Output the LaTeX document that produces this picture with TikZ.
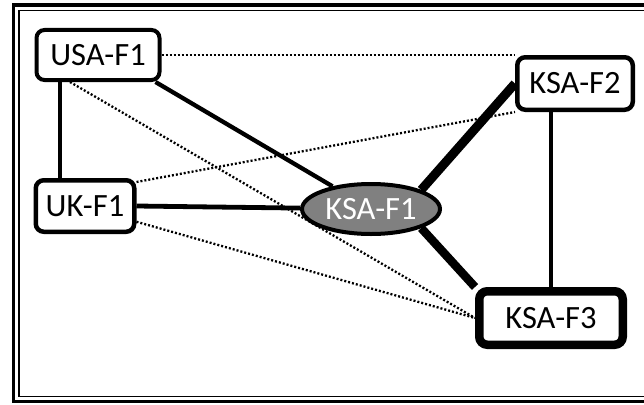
\documentclass[tikz,border=0pt]{standalone}
\usepackage{fontspec}
\setmainfont{Carlito}
\usetikzlibrary{shapes.geometric}

\begin{document}
\begin{tikzpicture}[x=1pt,y=-1pt,
    site/.style={rectangle,rounded corners=8pt,draw,fill=white,line width=4.5pt,inner sep=3pt,font=\fontsize{32.5}{36}\selectfont},
    hub/.style={ellipse,draw,fill=gray,text=white,line width=4pt,inner sep=2pt,minimum width=138pt,minimum height=50pt,font=\fontsize{32.5}{36}\selectfont},
    weaklink/.style={line width=2.3pt,dash pattern=on 2pt off 2pt}]
    \useasboundingbox (0,0) rectangle (644,404);
    % frame
    \draw[line width=3.5pt] (660,5) -- (13.5,5) -- (13.5,401.5) -- (660,401.5);
    \draw[line width=1.2pt] (660,10.5) -- (19,10.5) -- (19,396.5) -- (660,396.5);

    \node[site,line width=4pt,minimum width=123pt,minimum height=50pt] (usa) at (98,55) {USA-F1};
    \node[site,minimum width=98.5pt,minimum height=51.5pt] (uk) at (85,206) {UK-F1};
    \node[site,minimum width=115.5pt,minimum height=52.5pt] (ksa2) at (575,83.5) {KSA-F2};
    \node[site,line width=8.5pt,minimum width=143.5pt,minimum height=53.5pt] (ksa3) at (551,318) {KSA-F3};
    \node[hub] (ksa1) at (371,209) {KSA-F1};

    \draw[weaklink] (usa.east) -- (ksa2.north west);
    \draw[weaklink] ([xshift=-28pt]usa.south) -- (ksa3.west);
    \draw[weaklink] (uk.25) -- (ksa2.south west);
    \draw[weaklink] (uk.-17) -- (ksa3.west);

    \draw[line width=3.8pt] ([xshift=-38pt]usa.south) -- ([xshift=-38pt]usa.south |- uk.north);
    \draw[line width=3.8pt] (ksa3.north) -- (ksa3.north |- ksa2.south);
    \draw[line width=4.3pt] ([xshift=-6pt]usa.south east) -- (ksa1);
    \draw[line width=4.8pt] (uk.east) -- (ksa1);
    \draw[line width=9pt] (ksa1.north east) -- (ksa2.west);
    \draw[line width=8.5pt] (ksa1.south east) -- (ksa3.north west);
\end{tikzpicture}
\end{document}
